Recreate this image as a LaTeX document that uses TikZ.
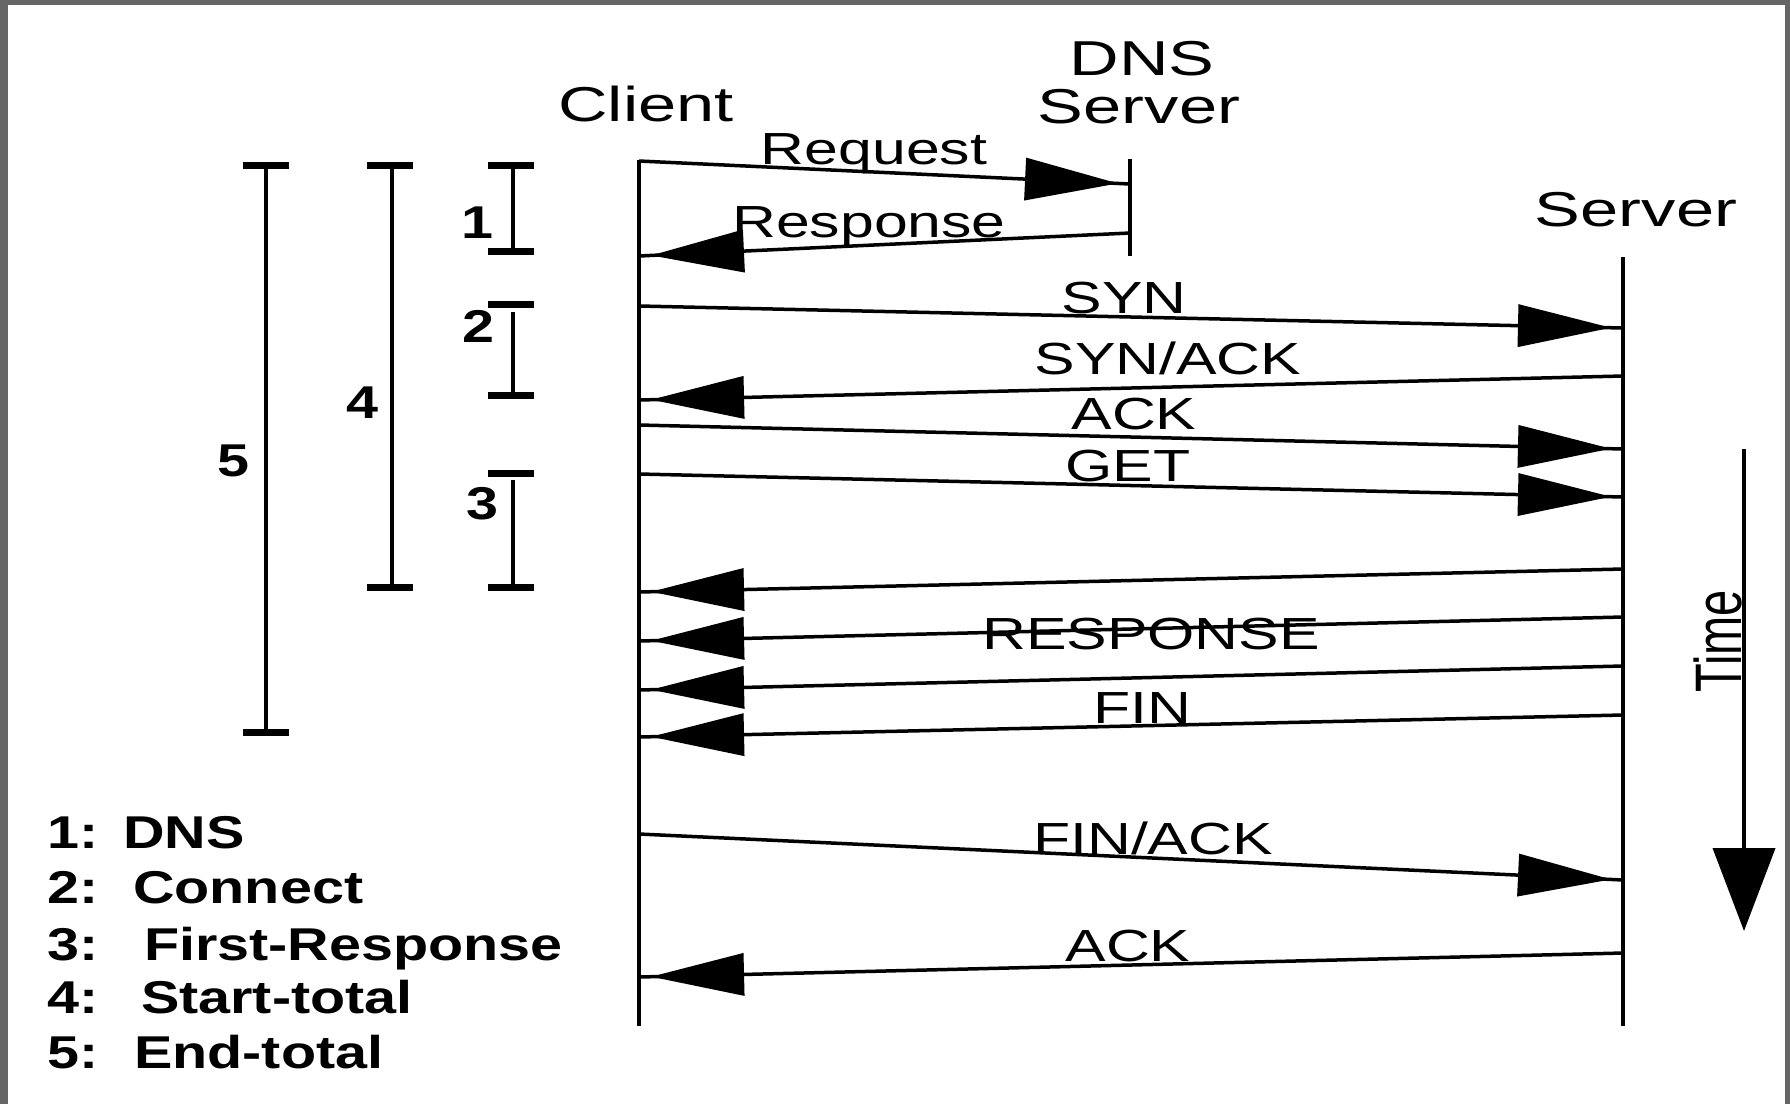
\documentclass[tikz,border=0pt]{standalone}
\usepackage{fontspec}
\usetikzlibrary{arrows.meta,decorations.markings}
\newfontfamily\headfont[FakeStretch=1.4]{Liberation Sans}
\newfontfamily\msgfont[FakeStretch=1.35]{Liberation Sans}
\newfontfamily\legfont[FakeStretch=1.25]{Liberation Sans}
\newfontfamily\plainfont{Liberation Sans}
\definecolor{framegray}{HTML}{666666}

\begin{document}
\begin{tikzpicture}[x=1pt,y=-1pt,
  lifeline/.style={line width=4pt},
  msgline/.style={line width=3.5pt, postaction={decorate},
    decoration={markings, mark=at position -12pt with {\arrow{Triangle[length=93pt,width=42pt]}}}},
  heading/.style={font=\headfont\fontsize{49}{55}\selectfont, inner sep=0pt, anchor=base},
  msglabel/.style={font=\msgfont\fontsize{45}{52}\selectfont, inner sep=0pt, anchor=base},
  legline/.style={font=\legfont\bfseries\fontsize{46}{52}\selectfont, inner sep=0pt, anchor=base west},
  barnum/.style={font=\legfont\bfseries\fontsize{46}{52}\selectfont, inner sep=0pt, anchor=base},
  barcap/.style={line width=7pt},
  barline/.style={line width=3.5pt},
]
\useasboundingbox (0,0) rectangle (1790,1104);

% frame
\fill[framegray] (0,0) rectangle (1790,5);
\fill[framegray] (0,0) rectangle (8,1104);
\fill[framegray] (1785,0) rectangle (1790,1104);

% participants
\node[heading] (client) at (646,121) {Client};
\node[heading] (dnsname) at (1142,75) {DNS};
\node[heading] (dnsserver) at (1139,123) {Server};
\node[heading] (server) at (1636,226) {Server};

% lifelines
\coordinate (cl-top) at (639,160);
\coordinate (cl-bot) at (639,1026);
\coordinate (dn-top) at (1130,159);
\coordinate (dn-bot) at (1130,256);
\coordinate (sv-top) at (1623,257);
\coordinate (sv-bot) at (1623,1026);
\draw[lifeline] (cl-top) -- (cl-bot);
\draw[lifeline] (dn-top) -- (dn-bot);
\draw[lifeline] (sv-top) -- (sv-bot);

% message end points
\coordinate (req-a) at (639,161);  \coordinate (req-b) at (1130,184);
\coordinate (rsp-a) at (1130,233); \coordinate (rsp-b) at (639,256);
\coordinate (syn-a) at (639,306);  \coordinate (syn-b) at (1623,328);
\coordinate (sa-a) at (1623,376);  \coordinate (sa-b) at (639,400);
\coordinate (ack-a) at (639,425);  \coordinate (ack-b) at (1623,449);
\coordinate (get-a) at (639,474);  \coordinate (get-b) at (1623,497);
\coordinate (ra-a) at (1623,569);  \coordinate (ra-b) at (639,592);
\coordinate (rb-a) at (1623,617);  \coordinate (rb-b) at (639,641);
\coordinate (rc-a) at (1623,666);  \coordinate (rc-b) at (639,690);
\coordinate (rd-a) at (1623,715);  \coordinate (rd-b) at (639,737);
\coordinate (fa-a) at (639,834);   \coordinate (fa-b) at (1623,880);
\coordinate (fk-a) at (1623,953);  \coordinate (fk-b) at (639,977);

% messages
\draw[msgline] (req-a) -- (req-b);
\draw[msgline] (rsp-a) -- (rsp-b);
\draw[msgline] (syn-a) -- (syn-b);
\draw[msgline] (sa-a) -- (sa-b);
\draw[msgline] (ack-a) -- (ack-b);
\draw[msgline] (get-a) -- (get-b);
\draw[msgline] (ra-a) -- (ra-b);
\draw[msgline] (rb-a) -- (rb-b);
\draw[msgline] (rc-a) -- (rc-b);
\draw[msgline] (rd-a) -- (rd-b);
\draw[msgline] (fa-a) -- (fa-b);
\draw[msgline] (fk-a) -- (fk-b);

% message labels
\node[msglabel] (l-req) at (874,164) {Request};
\node[msglabel] (l-rsp) at (869,237) {Response};
\node[msglabel] (l-syn) at (1124,313) {SYN};
\node[msglabel] (l-sa) at (1168,374) {SYN/ACK};
\node[msglabel] (l-ack) at (1134,429) {ACK};
\node[msglabel] (l-get) at (1128,481) {GET};
\node[msglabel] (l-resp) at (1151,649) {RESPONSE};
\node[msglabel] (l-fin) at (1142,723) {FIN};
\node[msglabel] (l-fa) at (1153,854) {FIN/ACK};
\node[msglabel] (l-fk) at (1128,961) {ACK};

% time axis
\coordinate (time-top) at (1744,449);
\coordinate (time-tip) at (1744,931);
\draw[line width=4pt, -{Triangle[length=83pt,width=62pt]}] (time-top) -- (time-tip);
\node[rotate=90, anchor=base west, inner sep=0pt, font=\plainfont\fontsize{47}{52}\selectfont] (time) at (1741,693) {\scalebox{1}[1.4]{Time}};

% interval bars
% 5: End-total
\draw[barline] (266,165) -- (266,732);
\draw[barcap] (243,165) -- (289,165);
\draw[barcap] (243,732) -- (289,732);
% 4: Start-total
\draw[barline] (392,165) -- (392,587);
\draw[barcap] (367,165) -- (413,165);
\draw[barcap] (367,587) -- (413,587);
% 1: DNS
\draw[barline] (513,165) -- (513,251);
\draw[barcap] (488,165) -- (534,165);
\draw[barcap] (488,251) -- (534,251);
% 2: Connect
\draw[barline] (513,312) -- (513,395);
\draw[barcap] (488,304.5) -- (534,304.5);
\draw[barcap] (488,395) -- (534,395);
% 3: First-Response
\draw[barline] (513,480) -- (513,587);
\draw[barcap] (488,473) -- (534,473);
\draw[barcap] (488,587) -- (534,587);

\node[barnum] (n1) at (477,238) {1};
\node[barnum] (n2) at (478,342) {2};
\node[barnum] (n3) at (482,519) {3};
\node[barnum] (n4) at (362,418) {4};
\node[barnum] (n5) at (233,476) {5};

% legend
\node[legline] (leg1) at (47,848) {\makebox[76pt][l]{1: }DNS};
\node[legline] (leg2) at (47,903) {\makebox[86pt][l]{2: }Connect};
\node[legline] (leg3) at (47,960) {\makebox[97pt][l]{3: }First-Response};
\node[legline] (leg4) at (47,1013) {\makebox[94pt][l]{4: }Start-total};
\node[legline] (leg5) at (47,1068) {\makebox[87pt][l]{5: }End-total};
\end{tikzpicture}
\end{document}
